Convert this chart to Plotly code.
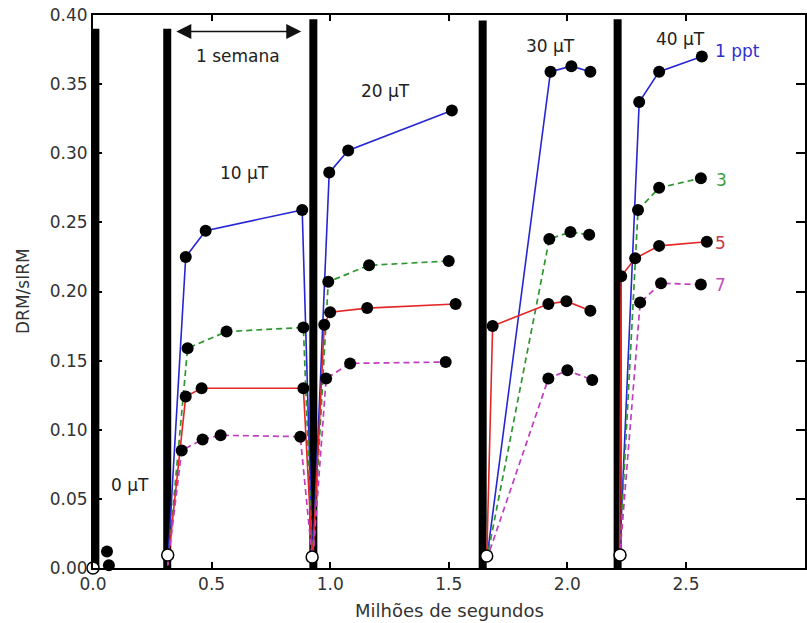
import plotly.graph_objects as go

# ---------------- data ----------------
blue_x = [0.391, 0.475, 0.882, 0.996, 1.076, 1.513, 1.929, 2.017, 2.097, 2.303, 2.387, 2.567]
blue_y = [0.225, 0.244, 0.259, 0.286, 0.302, 0.331, 0.359, 0.363, 0.359, 0.337, 0.359, 0.370]
blue_seg = [1, 1, 1, 2, 2, 2, 3, 3, 3, 4, 4, 4]

green_x = [0.399, 0.563, 0.887, 0.992, 1.164, 1.500, 1.924, 2.013, 2.092, 2.298, 2.387, 2.563]
green_y = [0.159, 0.171, 0.174, 0.207, 0.219, 0.222, 0.238, 0.243, 0.241, 0.259, 0.275, 0.282]
green_seg = [1, 1, 1, 2, 2, 2, 3, 3, 3, 4, 4, 4]

red_x = [0.391, 0.458, 0.887, 0.975, 1.000, 1.156, 1.529, 1.685, 1.920, 1.996, 2.097, 2.227, 2.286, 2.387, 2.588]
red_y = [0.124, 0.130, 0.130, 0.176, 0.185, 0.188, 0.191, 0.175, 0.191, 0.193, 0.186, 0.211, 0.224, 0.233, 0.236]
red_seg = [1, 1, 1, 2, 2, 2, 2, 3, 3, 3, 3, 4, 4, 4, 4]

mag_x = [0.374, 0.462, 0.538, 0.874, 0.983, 1.084, 1.487, 1.920, 2.000, 2.105, 2.307, 2.395, 2.563]
mag_y = [0.085, 0.093, 0.096, 0.095, 0.137, 0.148, 0.149, 0.137, 0.143, 0.136, 0.192, 0.206, 0.205]
mag_seg = [1, 1, 1, 1, 2, 2, 2, 3, 3, 3, 4, 4, 4]

# points where each curve restarts from ~zero (after AF demagnetisation)
reset_x = [0.315, 0.926, 1.660, 2.220]
reset_y = [0.002, 0.004, 0.006, 0.006]
reset_joined = [False, True, False, False]

# 0 uT measurements
zero_x = [0.059, 0.067]
zero_y = [0.012, 0.002]

# open circles (demagnetised state)
open_x = [0.000, 0.315, 0.924, 1.660, 2.222]
open_y = [0.000, 0.0094, 0.008, 0.0087, 0.0094]

# thick black bars marking field changes
bar_x = [0.010, 0.313, 0.929, 1.643, 2.212]
bar_top = [0.390, 0.390, 0.397, 0.396, 0.397]

field_text = ["0 μT", "10 μT", "20 μT", "30 μT", "40 μT"]
field_x = [0.155, 0.639, 1.235, 1.929, 2.479]
field_y = [0.060, 0.286, 0.345, 0.3775, 0.383]

series_text = ["1 ppt", "3", "5", "7"]
series_lx = [2.613, 2.618, 2.613, 2.613]
series_ly = [0.374, 0.2804, 0.2348, 0.205]

week_x0, week_x1, week_y = 0.345, 0.878, 0.388
week_label_y = 0.370

x_ticks = [0.0, 0.5, 1.0, 1.5, 2.0, 2.5, 3.0]
y_ticks = [0.00, 0.05, 0.10, 0.15, 0.20, 0.25, 0.30, 0.35, 0.40]

# ---------------- styles ----------------
FONT = "DejaVu Sans"
series = [
    (blue_x, blue_y, blue_seg, "#2626d4", "solid", 1.6, "#3030d0"),
    (green_x, green_y, green_seg, "#2e962e", "6px,4px", 1.7, "#3a9e3a"),
    (red_x, red_y, red_seg, "#e42626", "solid", 1.6, "#c83a4c"),
    (mag_x, mag_y, mag_seg, "#c23cc2", "6px,4px", 1.7, "#c24cba"),
]


def build_line(xs, ys, segs):
    lx, ly = [], []
    for s in range(1, 5):
        if s > 1 and not reset_joined[s - 1]:
            lx.append(None)
            ly.append(None)
        lx.append(reset_x[s - 1])
        ly.append(reset_y[s - 1])
        for x, y, g in zip(xs, ys, segs):
            if g == s:
                lx.append(x)
                ly.append(y)
    return lx, ly


fig = go.Figure()

# bars
for bx, bt in zip(bar_x, bar_top):
    fig.add_trace(go.Scatter(x=[bx, bx], y=[0, bt], mode="lines",
                             line=dict(color="black", width=8),
                             hoverinfo="skip", showlegend=False, cliponaxis=False))

# lines
for xs, ys, segs, col, dash, w, _ in series:
    lx, ly = build_line(xs, ys, segs)
    fig.add_trace(go.Scatter(x=lx, y=ly, mode="lines",
                             line=dict(color=col, width=w, dash=dash),
                             showlegend=False, connectgaps=False))

# black markers
all_x = blue_x + green_x + red_x + mag_x + zero_x
all_y = blue_y + green_y + red_y + mag_y + zero_y
fig.add_trace(go.Scatter(x=all_x, y=all_y, mode="markers",
                         marker=dict(color="black", size=12, line=dict(width=0)),
                         showlegend=False, cliponaxis=False))

# open circles
fig.add_trace(go.Scatter(x=open_x, y=open_y, mode="markers",
                         marker=dict(color="white", size=12, line=dict(color="black", width=1.5)),
                         showlegend=False, cliponaxis=False))

annotations = []
for t, x, y in zip(field_text, field_x, field_y):
    annotations.append(dict(x=x, y=y, xref="x", yref="y", text=t, showarrow=False,
                            xanchor="center", yanchor="middle",
                            font=dict(family=FONT, size=17, color="#222222")))
for t, x, y, s in zip(series_text, series_lx, series_ly, series):
    annotations.append(dict(x=x, y=y, xref="x", yref="y", text=t, showarrow=False,
                            xanchor="left", yanchor="middle",
                            font=dict(family=FONT, size=17, color=s[6])))

# one week arrow
annotations.append(dict(x=week_x1, y=week_y, ax=week_x0, ay=week_y, xref="x", yref="y",
                        axref="x", ayref="y", text="", showarrow=True,
                        arrowhead=2, arrowside="end+start", arrowsize=2.0,
                        arrowwidth=1.5, arrowcolor="#111111"))
annotations.append(dict(x=(week_x0 + week_x1) / 2, y=week_label_y, xref="x", yref="y",
                        text="1 semana", showarrow=False, xanchor="center", yanchor="middle",
                        font=dict(family=FONT, size=17, color="#222222")))

# axis titles
annotations.append(dict(x=0.5, y=-0.076, xref="paper", yref="paper", text="Milhões de segundos",
                        showarrow=False, xanchor="center", yanchor="middle",
                        font=dict(family=FONT, size=18, color="#333333")))
annotations.append(dict(x=-0.099, y=0.5, xref="paper", yref="paper", text="DRM/sIRM",
                        showarrow=False, xanchor="center", yanchor="middle", textangle=-90,
                        font=dict(family=FONT, size=17, color="#333333")))

fig.update_layout(
    width=807, height=623,
    margin=dict(l=93, r=0, t=15, b=55),
    paper_bgcolor="white", plot_bgcolor="white",
    showlegend=False,
    annotations=annotations,
    font=dict(family=FONT, size=17, color="#333333"),
)
fig.update_xaxes(range=[0, 3.002], tickvals=x_ticks, ticktext=[f"{v:.1f}" for v in x_ticks],
                 showgrid=False, zeroline=False, showline=True, linecolor="black", linewidth=2,
                 mirror="ticks", ticks="inside", ticklen=6, tickwidth=1.5, tickcolor="black",
                 tickfont=dict(family=FONT, size=17, color="#333333"))
fig.update_yaxes(range=[0, 0.4], tickvals=y_ticks, ticktext=[f"{v:.2f}" for v in y_ticks],
                 showgrid=False, zeroline=False, showline=True, linecolor="black", linewidth=2,
                 mirror="ticks", ticks="inside", ticklen=9, tickwidth=1.5, tickcolor="black",
                 tickfont=dict(family=FONT, size=17, color="#333333"))

fig.write_html("out.html")
